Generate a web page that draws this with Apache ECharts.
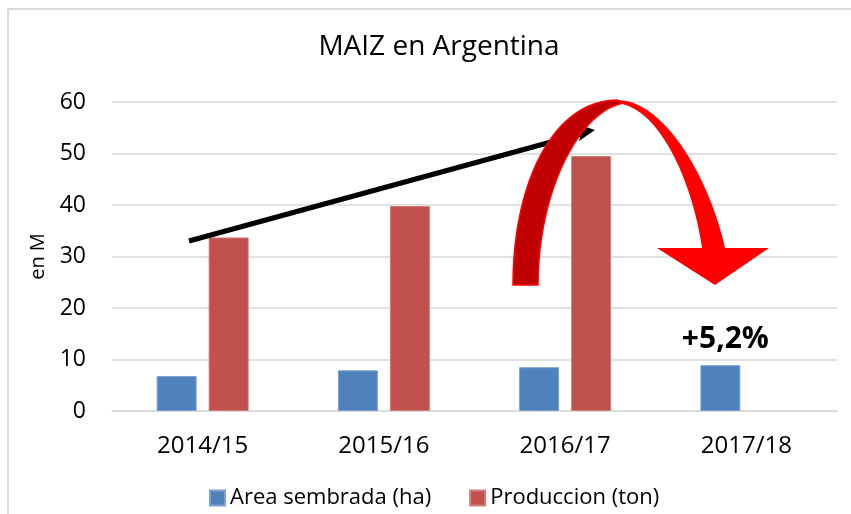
<!DOCTYPE html>
<html>
<head>
<meta charset="utf-8">
<script src="https://cdn.jsdelivr.net/npm/echarts@6/dist/echarts.min.js"></script>
<style>
  html, body { margin: 0; padding: 0; background: #fff; }
  #chart { width: 851px; height: 514px; }
</style>
</head>
<body>
<div id="chart"></div>
<script>
var campanias = ["2014/15", "2015/16", "2016/17", "2017/18"];
var areaSembrada = [6.8, 7.9, 8.5, 8.9];
var produccion = [33.7, 39.8, 49.5, null];
var yTicks = [0, 10, 20, 30, 40, 50, 60];
var nota = "+5,2%";

var fuente = "Open Sans";
var myChart = echarts.init(document.getElementById("chart"));

// puntos de una curva bezier cubica (para dibujar la flecha curva)
function bezier(p0, p1, p2, p3) {
  var pts = [];
  for (var i = 0; i <= 24; i++) {
    var t = i / 24, u = 1 - t;
    pts.push([
      u * u * u * p0[0] + 3 * u * u * t * p1[0] + 3 * u * t * t * p2[0] + t * t * t * p3[0],
      u * u * u * p0[1] + 3 * u * u * t * p1[1] + 3 * u * t * t * p2[1] + t * t * t * p3[1]
    ]);
  }
  return pts;
}

var ladoOscuro = bezier([513, 285], [513, 180], [555, 100], [617, 100])
  .concat(bezier([624, 103], [580, 110], [538, 190], [538, 285]));
var ladoClaro = bezier([617, 100], [665, 100], [710, 180], [725, 248])
  .concat([[769, 248], [715, 285], [657, 248]])
  .concat(bezier([702, 248], [692, 180], [660, 112], [622, 104]));

// la ultima barra azul lleva la nota de variacion
var areaData = areaSembrada.map(function (v, i) {
  if (i === areaSembrada.length - 1) {
    return {
      value: v,
      label: {
        show: true,
        position: "top",
        distance: 11,
        offset: [5, 0],
        formatter: nota,
        color: "#000",
        fontSize: 30,
        fontWeight: "bold",
        fontFamily: fuente
      }
    };
  }
  return v;
});

var option = {
  animation: false,
  backgroundColor: "#fff",
  title: {
    text: "MAIZ en Argentina",
    left: 434,
    textAlign: "center",
    top: 28,
    textStyle: {
      color: "#000",
      fontSize: 28,
      fontWeight: "normal",
      fontFamily: fuente
    }
  },
  legend: {
    left: 204,
    top: 482,
    itemWidth: 15,
    itemHeight: 15,
    itemGap: 38,
    icon: "rect",
    textStyle: { color: "#000", fontSize: 22, fontFamily: fuente }
  },
  grid: {
    left: 112,
    right: 14,
    top: 102,
    bottom: 103,
    outerBoundsMode: "none"
  },
  xAxis: {
    type: "category",
    data: campanias,
    axisLine: { lineStyle: { color: "#D9D9D9", width: 1.5 } },
    axisTick: { show: false },
    axisLabel: { color: "#000", fontSize: 24, margin: 23, fontFamily: fuente }
  },
  yAxis: {
    type: "value",
    min: yTicks[0],
    max: yTicks[yTicks.length - 1],
    interval: 10,
    name: "en M",
    nameLocation: "middle",
    nameGap: 64,
    nameTextStyle: { color: "#000", fontSize: 20, fontFamily: fuente },
    axisLine: { show: false },
    axisTick: { show: false },
    axisLabel: { color: "#000", fontSize: 23, margin: 26, fontFamily: fuente },
    splitLine: { lineStyle: { color: "#D9D9D9", width: 1.5 } }
  },
  series: [
    {
      name: "Area sembrada (ha)",
      type: "bar",
      barWidth: 40,
      barGap: "30%",
      data: areaData,
      itemStyle: { color: "#4F81BD", borderColor: "#7DA0D0", borderWidth: 1 }
    },
    {
      name: "Produccion (ton)",
      type: "bar",
      barWidth: 40,
      data: produccion,
      itemStyle: { color: "#C0504D", borderColor: "#D07E7C", borderWidth: 1 }
    }
  ],
  graphic: [
    // marco del grafico
    {
      type: "rect",
      z: 0,
      silent: true,
      shape: { x: 8, y: 9, width: 900, height: 600 },
      style: { fill: null, stroke: "#D9D9D9", lineWidth: 2 }
    },
    // flecha negra de tendencia
    {
      type: "line",
      z: 100,
      shape: { x1: 189, y1: 241, x2: 584, y2: 133 },
      style: { stroke: "#000", lineWidth: 5 }
    },
    {
      type: "polygon",
      z: 100,
      shape: { points: [[595, 130], [583, 126], [579, 141]] },
      style: { fill: "#000" }
    },
    // flecha roja curva: lado oscuro
    {
      type: "polygon",
      z: 101,
      shape: { points: ladoOscuro },
      style: { fill: "#C00000", stroke: "#FF0000", lineWidth: 1.5 }
    },
    // flecha roja curva: lado claro con punta
    {
      type: "polygon",
      z: 101,
      shape: { points: ladoClaro },
      style: { fill: "#FF0000" }
    }
  ]
};

myChart.setOption(option);
</script>
</body>
</html>
